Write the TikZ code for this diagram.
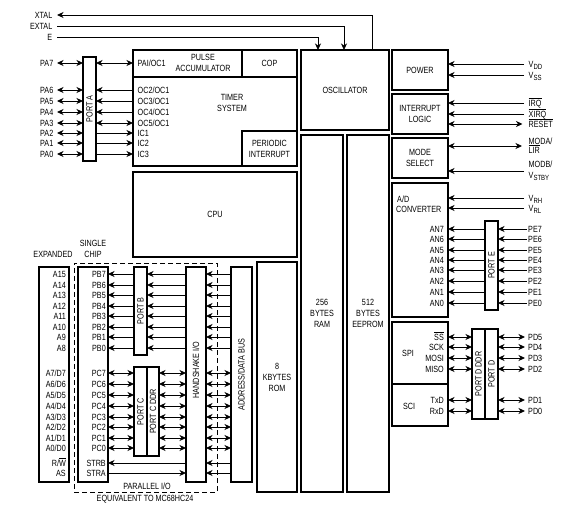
\documentclass[tikz,border=0pt]{standalone}
\usepackage{fontspec}
\setmainfont{Liberation Sans}[FakeStretch=0.8]
\usetikzlibrary{arrows.meta}
\newcommand\fs{\fontsize{9}{11}\selectfont}
\newcommand\sbs[1]{\raisebox{-0.45ex}{\fontsize{7.5}{8}\selectfont #1}}
\newcommand\ovl[1]{$\overline{\mbox{#1}}$}
\tikzset{
  box/.style={draw, line width=1.1pt, inner sep=0pt, outer sep=0pt, anchor=north west},
  lbl/.style={inner sep=0pt, text height=6.4pt, text depth=0pt, font=\fs},
  txt/.style={inner sep=0pt, align=center, font=\fs},
  rtxt/.style={inner sep=0pt, rotate=90, font=\fs},
  con/.style={line width=0.85pt},
  tip/.tip={Stealth[length=6.5pt,width=6pt,inset=2pt]},
  arr/.style={con, -tip},
  dbl/.style={con, tip-tip},
}
\newcommand\bx[6][]{\node[box,#1,minimum width={(#5-#3)*1pt},minimum height={(#6-#4)*1pt}] (#2) at (#3,#4) {};}
\begin{document}
\begin{tikzpicture}[x=1pt,y=-1pt]
\useasboundingbox (0,0) rectangle (581,518);
% boxes
\bx{timer}{133}{50}{297}{166}
\bx{pacc}{133}{50}{242}{77}
\bx{cop}{242}{50}{297}{77}
\bx{periodic}{242}{131}{297}{166}
\bx{osc}{301}{50}{389}{130}
\bx{cpu}{133}{172}{297}{257}
\bx{ram}{301}{135}{343}{492}
\bx{eeprom}{347}{135}{389}{492}
\bx{rom}{257}{262}{297}{492}
\bx{bus}{231}{267}{252}{482}
\bx{hs}{186}{267}{206}{482}
\bx{portb}{134}{267}{147}{355}
\bx{portc}{134}{367}{147}{456}
\bx{portcddr}{147}{367}{159}{456}
\bx{single}{78}{267}{108}{482}
\bx{expanded}{39}{267}{69}{482}
\bx[dashed,line width=0.8pt,dash pattern=on 5pt off 3pt]{par}{74}{263}{217}{492}
\bx{porta}{83}{57}{96}{161}
\bx{power}{392}{50}{448}{90}
\bx{intr}{392}{94}{448}{134}
\bx{mode}{392}{138}{448}{178}
\bx{adc}{392}{183}{448}{317}
\bx{porte}{485}{221}{498}{310}
\bx{spi}{392}{322}{448}{384}
\bx{sci}{392}{384}{448}{426}
\bx{portddr}{472}{329}{485}{419}
\bx{portd}{485}{329}{498}{419}
% box texts
\node[txt] at (203,62.5) {PULSE\\ACCUMULATOR};
\node[txt] at (cop) {COP};
\node[txt] at (232,102.5) {TIMER\\SYSTEM};
\node[txt] at (periodic) {PERIODIC\\INTERRUPT};
\node[txt] at (osc) {OSCILLATOR};
\node[txt] at (cpu) {CPU};
\node[txt] at (ram) {256\\BYTES\\RAM};
\node[txt] at (eeprom) {512\\BYTES\\EEPROM};
\node[txt] at (rom) {8\\KBYTES\\ROM};
\node[txt] at (power) {POWER};
\node[txt] at (intr) {INTERRUPT\\LOGIC};
\node[txt] at (mode) {MODE\\SELECT};
\node[lbl,anchor=west] at (397,199) {A/D};
\node[lbl,anchor=west] at (396,209) {CONVERTER};
\node[txt] at (408,353) {SPI};
\node[txt] at (409,406) {SCI};
\node[rtxt] at (porta) {PORT A};
\node[rtxt] at (portb) {PORT B};
\node[rtxt] at (portc) {PORT C};
\node[rtxt] at (portcddr) {PORT C DDR};
\node[rtxt] at (196,370) {HANDSHAKE I/O};
\node[rtxt] at (bus) {ADDRESS/DATA BUS};
\node[rtxt] at (porte) {PORT E};
\node[rtxt] at (portddr) {PORT D DDR};
\node[rtxt] at (portd) {PORT D};
\node[txt] at (53,254) {EXPANDED};
\node[txt] at (93,249) {SINGLE\\CHIP};
\node[txt] at (147,486) {PARALLEL I/O};
\node[txt] at (145,499) {EQUIVALENT TO MC68HC24};
% top signals
\node[lbl,anchor=east] (xtal) at (52.5,15) {XTAL};
\node[lbl,anchor=east] (extal) at (52.5,26) {EXTAL};
\node[lbl,anchor=east] (enode) at (52.5,37) {E};
\draw[arr] (osc.north -| 372,0) |- ([xshift=4.5pt]xtal.east);
\draw[arr] ([xshift=4.5pt]extal.east) -| (osc.north -| 344,0);
\draw[arr] ([xshift=4.5pt]enode.east) -| (osc.north -| 318,0);
% port A
\foreach \n/\y in {7/63,6/90,5/101,4/112,3/123,2/133,1/143,0/154} {
  \node[lbl,anchor=east] (pa\n) at (53.5,\y) {PA\n};
  \draw[dbl] ([xshift=3.5pt]pa\n.east) -- (porta.west |- pa\n.east);
}
\draw[dbl] (porta.east |- pa7.east) -- (timer.west |- pa7.east);
\foreach \n in {6,5,4} \draw[arr] (timer.west |- pa\n.east) -- (porta.east |- pa\n.east);
\draw[dbl] (porta.east |- pa3.east) -- (timer.west |- pa3.east);
\foreach \n in {2,1,0} \draw[arr] (porta.east |- pa\n.east) -- (timer.west |- pa\n.east);
\node[lbl,anchor=west] at (137.5,63) {PAI/OC1};
\node[lbl,anchor=west] at (137.5,90) {OC2/OC1};
\node[lbl,anchor=west] at (137.5,101) {OC3/OC1};
\node[lbl,anchor=west] at (137.5,112) {OC4/OC1};
\node[lbl,anchor=west] at (137.5,123) {OC5/OC1};
\node[lbl,anchor=west] at (137.5,133) {IC1};
\node[lbl,anchor=west] at (137.5,143) {IC2};
\node[lbl,anchor=west] at (137.5,154) {IC3};
% right side
\node[lbl,anchor=west] (vdd) at (528.5,64) {V\sbs{DD}};
\node[lbl,anchor=west] (vss) at (528.5,75) {V\sbs{SS}};
\draw[arr] ([xshift=-4.5pt]vdd.west) -- (power.east |- vdd.west);
\draw[arr] ([xshift=-4.5pt]vss.west) -- (power.east |- vss.west);
\node[lbl,anchor=west] (irq) at (528.5,103) {\ovl{IRQ}};
\node[lbl,anchor=west] (xirq) at (528.5,114) {\ovl{XIRQ}};
\node[lbl,anchor=west] (reset) at (528.5,124) {\ovl{RESET}};
\draw[arr] ([xshift=-4.5pt]irq.west) -- (intr.east |- irq.west);
\draw[arr] ([xshift=-4.5pt]xirq.west) -- (intr.east |- xirq.west);
\draw[dbl] ([xshift=-6pt]reset.west) -- (intr.east |- reset.west);
\coordinate (modaend) at (522,146);
\coordinate (modbend) at (524,171);
\draw[dbl] (mode.east |- modaend) -- (modaend);
\draw[arr] (modbend) -- (mode.east |- modbend);
\node[lbl,anchor=west] at (528.5,141.5) {MODA/};
\node[lbl,anchor=west] at (528.5,150) {\ovl{LIR}};
\node[lbl,anchor=west] at (528.5,164.5) {MODB/};
\node[lbl,anchor=west] at (528.5,175) {V\sbs{STBY}};
\node[lbl,anchor=west] (vrh) at (528.5,198) {V\sbs{RH}};
\node[lbl,anchor=west] (vrl) at (528.5,208) {V\sbs{RL}};
\draw[arr] ([xshift=-4.5pt]vrh.west) -- (adc.east |- vrh.west);
\draw[arr] ([xshift=-4.5pt]vrl.west) -- (adc.east |- vrl.west);
\foreach \n/\y in {7/229,6/239,5/250,4/260,3/270,2/281,1/292,0/303} {
  \node[lbl,anchor=east] (an\n) at (444,\y) {AN\n};
  \node[lbl,anchor=west] (pe\n) at (528,\y) {PE\n};
  \draw[arr] (porte.west |- an\n.east) -- (adc.east |- an\n.east);
  \draw[arr] ([xshift=-1.5pt]pe\n.west) -- (porte.east |- pe\n.west);
}
\node[lbl,anchor=east] (s1) at (444,337) {\ovl{SS}};
\node[lbl,anchor=east] (s2) at (444,347) {SCK};
\node[lbl,anchor=east] (s3) at (444,358) {MOSI};
\node[lbl,anchor=east] (s4) at (444,369) {MISO};
\node[lbl,anchor=east] (s5) at (444,400) {TxD};
\node[lbl,anchor=east] (s6) at (444,411) {RxD};
\node[lbl,anchor=west] (d1) at (528,337) {PD5};
\node[lbl,anchor=west] (d2) at (528,347) {PD4};
\node[lbl,anchor=west] (d3) at (528,358) {PD3};
\node[lbl,anchor=west] (d4) at (528,369) {PD2};
\node[lbl,anchor=west] (d5) at (528,400) {PD1};
\node[lbl,anchor=west] (d6) at (528,411) {PD0};
\foreach \i in {1,...,6} {
  \draw[dbl] (spi.east |- s\i.east) -- (portddr.west |- s\i.east);
  \draw[dbl] (portd.east |- d\i.west) -- ([xshift=-3pt]d\i.west);
}
% left bottom
\foreach \n/\y in {15/274,14/285,13/295,12/306,11/316,10/327,9/337,8/348}
  \node[lbl,anchor=east] at (66,\y) {A\n};
\foreach \n/\y in {7/373,6/384,5/395,4/406,3/417,2/427,1/438,0/448}
  \node[lbl,anchor=east] at (66,\y) {A\n/D\n};
\node[lbl,anchor=east] at (66,463) {R/\ovl{W}};
\node[lbl,anchor=east] at (66,473) {AS};
\foreach \n/\y in {7/274,6/285,5/295,4/306,3/316,2/327,1/337,0/348} {
  \node[lbl,anchor=east] (pb\n) at (106,\y) {PB\n};
  \draw[arr] (portb.west |- pb\n.east) -- (single.east |- pb\n.east);
  \draw[arr] (hs.west |- pb\n.east) -- (portb.east |- pb\n.east);
  \draw[arr] (bus.west |- pb\n.east) -- (hs.east |- pb\n.east);
}
\foreach \n/\y in {7/373,6/384,5/395,4/406,3/417,2/427,1/438,0/448} {
  \node[lbl,anchor=east] (pc\n) at (106,\y) {PC\n};
  \draw[dbl] (single.east |- pc\n.east) -- (portc.west |- pc\n.east);
  \draw[dbl] (portcddr.east |- pc\n.east) -- (hs.west |- pc\n.east);
  \draw[dbl] (hs.east |- pc\n.east) -- (bus.west |- pc\n.east);
}
\node[lbl,anchor=east] (strb) at (106,463) {STRB};
\node[lbl,anchor=east] (stra) at (106,473) {STRA};
\draw[arr] (hs.west |- strb.east) -- (single.east |- strb.east);
\draw[arr] (single.east |- stra.east) -- (hs.west |- stra.east);
\draw[arr] (bus.west |- strb.east) -- (hs.east |- strb.east);
\draw[arr] (bus.west |- stra.east) -- (hs.east |- stra.east);
\end{tikzpicture}
\end{document}
